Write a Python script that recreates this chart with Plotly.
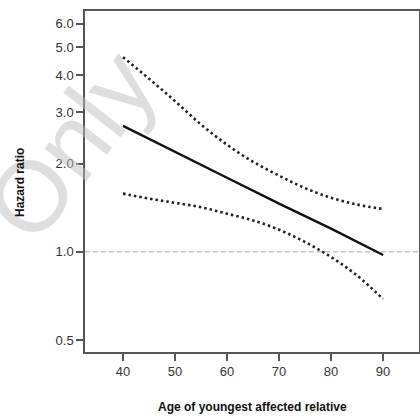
import math
import plotly.graph_objects as go

age_fit = [40, 50, 60, 70, 80, 90]
hr_fit = [2.69, 2.20, 1.79, 1.46, 1.20, 0.975]

age_ci = [40, 45, 50, 55, 60, 65, 70, 75, 80, 85, 90]
hr_upper = [4.62, 3.90, 3.27, 2.72, 2.32, 2.03, 1.82, 1.65, 1.53, 1.45, 1.40]
hr_lower = [1.58, 1.52, 1.47, 1.42, 1.35, 1.28, 1.19, 1.08, 0.96, 0.83, 0.69]

x_ticks = [40, 50, 60, 70, 80, 90]
y_ticks = [0.5, 1.0, 2.0, 3.0, 4.0, 5.0, 6.0]
y_tick_text = ["0.5", "1.0", "2.0", "3.0", "4.0", "5.0", "6.0"]

x_range = [32.7, 96.9]
y_range = [0.455, 6.64]

L, R, T, B = 85, 1, 11, 68
PW, PH = 420 - L - R, 420 - T - B


def px(x):
    return (x - L) / PW


def py(y):
    return 1 - (y - T) / PH


fig = go.Figure()

fig.add_trace(go.Scatter(x=x_range, y=[1, 1], mode="lines",
                         line=dict(color="#c4c4c4", width=1.5, dash="5px,3px"),
                         hoverinfo="skip", showlegend=False))
fig.add_trace(go.Scatter(x=age_ci, y=hr_upper, mode="lines", line_shape="spline",
                         line=dict(color="#222", width=2.6, dash="2.5px,3px"),
                         showlegend=False))
fig.add_trace(go.Scatter(x=age_ci, y=hr_lower, mode="lines", line_shape="spline",
                         line=dict(color="#222", width=2.6, dash="2.5px,3px"),
                         showlegend=False))
fig.add_trace(go.Scatter(x=age_fit, y=hr_fit, mode="lines",
                         line=dict(color="#111", width=2.4),
                         showlegend=False))

fig.add_annotation(text="Only", x=px(70), y=py(145), xref="paper", yref="paper",
                   xanchor="center", yanchor="middle", showarrow=False,
                   textangle=-52, font=dict(family="Liberation Sans, Arial", size=100,
                                            color="rgba(190,190,190,0.5)"))

fig.add_annotation(text="<b>Hazard ratio</b>", x=px(20), y=py(183), xref="paper", yref="paper",
                   xanchor="center", yanchor="middle", showarrow=False, textangle=-90,
                   font=dict(family="Liberation Sans, Arial", size=12, color="#111"))
fig.add_annotation(text="<b>Age of youngest affected relative</b>", x=px(252), y=py(407),
                   xref="paper", yref="paper", xanchor="center", yanchor="middle",
                   showarrow=False,
                   font=dict(family="Liberation Sans, Arial", size=12, color="#111"))

fig.update_layout(
    width=420, height=420,
    margin=dict(l=L, r=R, t=T, b=B, autoexpand=False),
    paper_bgcolor="white", plot_bgcolor="white",
    font=dict(family="Liberation Sans, Arial", color="#333"),
    xaxis=dict(range=x_range, tickmode="array", tickvals=x_ticks, automargin=False,
               ticks="outside", ticklen=7, tickwidth=1.5, tickcolor="#555",
               showline=True, linecolor="#555", linewidth=1.5, mirror=True,
               showgrid=False, zeroline=False,
               tickfont=dict(size=13, color="#333")),
    yaxis=dict(type="log", range=[math.log10(y_range[0]), math.log10(y_range[1])],
               automargin=False,
               tickmode="array", tickvals=y_ticks, ticktext=y_tick_text,
               ticks="outside", ticklen=7, tickwidth=1.5, tickcolor="#555",
               showline=True, linecolor="#555", linewidth=1.5, mirror=True,
               showgrid=False, zeroline=False,
               tickfont=dict(size=13, color="#333")),
)

fig.write_html("out.html", config={"displayModeBar": False},
               post_script="document.body.style.margin='0';document.body.style.overflow='hidden';")
